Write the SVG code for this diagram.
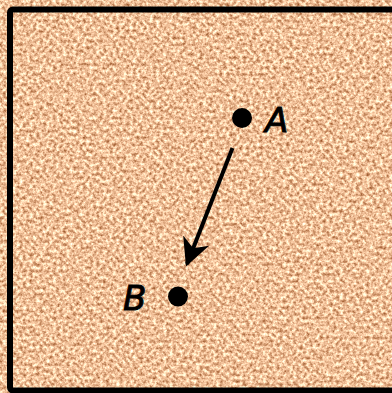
<svg xmlns="http://www.w3.org/2000/svg" width="392" height="393" viewBox="0 0 392 393">
  <style>
    .lbl { font-family: "DejaVu Sans", "Liberation Sans", sans-serif; font-style: italic; font-size: 34px; fill: #000; stroke: #000; stroke-width: 0.9px; }
    .dot { fill: #000; }
  </style>
  <defs>
    <filter id="sand" x="0" y="0" width="392" height="393" filterUnits="userSpaceOnUse" color-interpolation-filters="sRGB">
      <feTurbulence type="fractalNoise" baseFrequency="0.3" numOctaves="3" seed="7" result="n"/>
      <feColorMatrix in="n" type="matrix" values="0.8 0 0 0 0.54  1.0 0 0 0 0.25  1.05 0 0 0 0.07  0 0 0 0 1"/>
    </filter>
    <marker id="ah" viewBox="0 0 10 10" refX="9" refY="5" markerWidth="7" markerHeight="7" markerUnits="strokeWidth" orient="auto">
      <path d="M0,0 L10,5 L0,10 L3,5 Z" fill="#000"/>
    </marker>
  </defs>
  <rect x="0" y="0" width="392" height="393" fill="#fff"/>
  <rect x="10" y="9.5" width="390" height="381" fill="#E6AE7E" filter="url(#sand)"/>
  <rect x="10" y="9.5" width="390" height="381" rx="3" fill="none" stroke="#000" stroke-width="6"/>
  <g id="connectors">
    <line x1="232.5" y1="148" x2="187" y2="264" stroke="#000" stroke-width="4" marker-end="url(#ah)"/>
  </g>
  <g id="node-A">
    <circle class="dot" cx="242" cy="118" r="10"/>
    <text class="lbl" x="265" y="132">A</text>
  </g>
  <g id="node-B">
    <circle class="dot" cx="178" cy="296.5" r="10"/>
    <text class="lbl" x="123" y="310">B</text>
  </g>
</svg>
